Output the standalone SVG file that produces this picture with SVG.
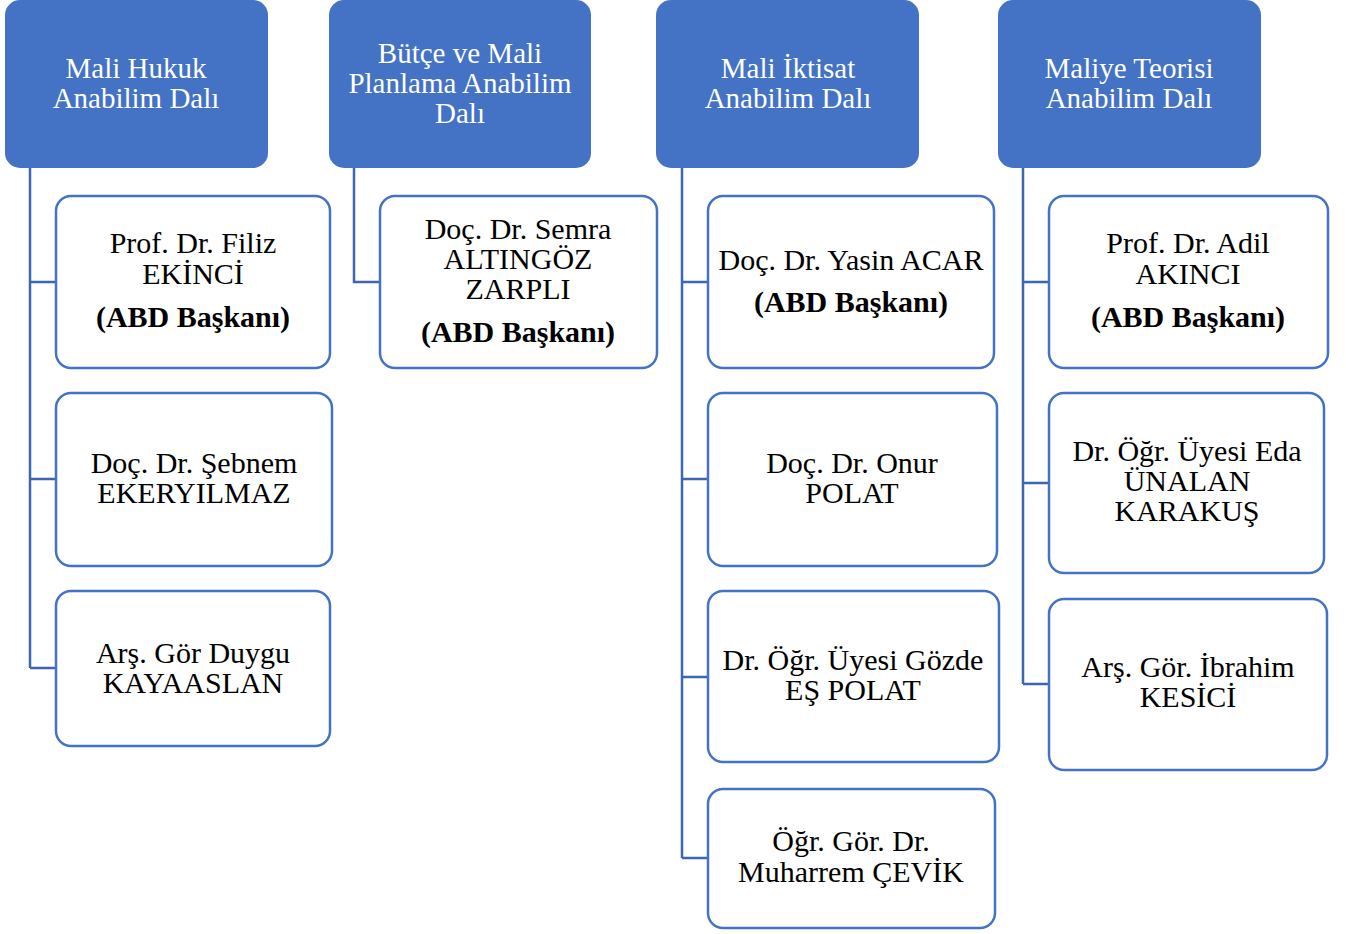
<svg xmlns="http://www.w3.org/2000/svg" width="1346" height="934" viewBox="0 0 1346 934">
<style>
.hd{fill:#4472C4;}
.bx{fill:#FFFFFF;stroke:#4472C4;stroke-width:2.5;}
.ht{font-family:"Liberation Serif","Times New Roman",serif;font-size:29px;fill:#FFFFFF;text-anchor:middle;}
.ct{font-family:"Liberation Serif","Times New Roman",serif;font-size:30px;fill:#000000;text-anchor:middle;}
.b{font-weight:bold;}
.cn{fill:none;stroke:#3D66B0;stroke-width:2.5;}
</style>
<rect width="1346" height="934" fill="#FFFFFF"/>
<g id="connectors">
<path class="cn" d="M30,168 V668 M30,282 H56 M30,479 H56 M30,668 H56"/>
<path class="cn" d="M354,168 V282 H380"/>
<path class="cn" d="M682,168 V858 M682,282 H708 M682,479 H708 M682,677 H708 M682,858 H708"/>
<path class="cn" d="M1023,168 V684 M1023,282 H1049 M1023,483 H1049 M1023,684 H1049"/>
</g>
<g id="h1"><rect class="hd" x="5" y="0" width="263" height="168" rx="15"/>
<text class="ht" x="136" y="78">Mali Hukuk</text><text class="ht" x="136" y="108">Anabilim Dalı</text></g>
<g id="h2"><rect class="hd" x="329" y="0" width="262" height="168" rx="15"/>
<text class="ht" x="460" y="63">Bütçe ve Mali</text><text class="ht" x="460" y="93">Planlama Anabilim</text><text class="ht" x="460" y="123">Dalı</text></g>
<g id="h3"><rect class="hd" x="656" y="0" width="263" height="168" rx="15"/>
<text class="ht" x="788" y="78">Mali İktisat</text><text class="ht" x="788" y="108">Anabilim Dalı</text></g>
<g id="h4"><rect class="hd" x="998" y="0" width="263" height="168" rx="15"/>
<text class="ht" x="1129" y="78">Maliye Teorisi</text><text class="ht" x="1129" y="108">Anabilim Dalı</text></g>

<g id="c1a"><rect class="bx" x="56" y="196" width="274" height="172" rx="15"/>
<text class="ct" x="193" y="253">Prof. Dr. Filiz</text><text class="ct" x="193" y="284">EKİNCİ</text><text class="ct b" x="193" y="327">(ABD Başkanı)</text></g>
<g id="c1b"><rect class="bx" x="56" y="393" width="276" height="173" rx="15"/>
<text class="ct" x="194" y="473">Doç. Dr. Şebnem</text><text class="ct" x="194" y="503">EKERYILMAZ</text></g>
<g id="c1c"><rect class="bx" x="56" y="591" width="274" height="155" rx="15"/>
<text class="ct" x="193" y="663">Arş. Gör Duygu</text><text class="ct" x="193" y="693">KAYAASLAN</text></g>

<g id="c2a"><rect class="bx" x="380" y="196" width="277" height="172" rx="15"/>
<text class="ct" x="518" y="239">Doç. Dr. Semra</text><text class="ct" x="518" y="269">ALTINGÖZ</text><text class="ct" x="518" y="299">ZARPLI</text><text class="ct b" x="518" y="342">(ABD Başkanı)</text></g>

<g id="c3a"><rect class="bx" x="708" y="196" width="286" height="172" rx="15"/>
<text class="ct" x="851" y="270">Doç. Dr. Yasin ACAR</text><text class="ct b" x="851" y="312">(ABD Başkanı)</text></g>
<g id="c3b"><rect class="bx" x="708" y="393" width="289" height="173" rx="15"/>
<text class="ct" x="852" y="473">Doç. Dr. Onur</text><text class="ct" x="852" y="503">POLAT</text></g>
<g id="c3c"><rect class="bx" x="708" y="591" width="291" height="171" rx="15"/>
<text class="ct" x="853" y="670">Dr. Öğr. Üyesi Gözde</text><text class="ct" x="853" y="700">EŞ POLAT</text></g>
<g id="c3d"><rect class="bx" x="708" y="789" width="287" height="139" rx="15"/>
<text class="ct" x="851" y="851">Öğr. Gör. Dr.</text><text class="ct" x="851" y="882">Muharrem ÇEVİK</text></g>

<g id="c4a"><rect class="bx" x="1049" y="196" width="279" height="172" rx="15"/>
<text class="ct" x="1188" y="253">Prof. Dr. Adil</text><text class="ct" x="1188" y="284">AKINCI</text><text class="ct b" x="1188" y="327">(ABD Başkanı)</text></g>
<g id="c4b"><rect class="bx" x="1049" y="393" width="275" height="180" rx="15"/>
<text class="ct" x="1187" y="461">Dr. Öğr. Üyesi Eda</text><text class="ct" x="1187" y="491">ÜNALAN</text><text class="ct" x="1187" y="521">KARAKUŞ</text></g>
<g id="c4c"><rect class="bx" x="1049" y="599" width="278" height="171" rx="15"/>
<text class="ct" x="1188" y="677">Arş. Gör. İbrahim</text><text class="ct" x="1188" y="707">KESİCİ</text></g>
</svg>
